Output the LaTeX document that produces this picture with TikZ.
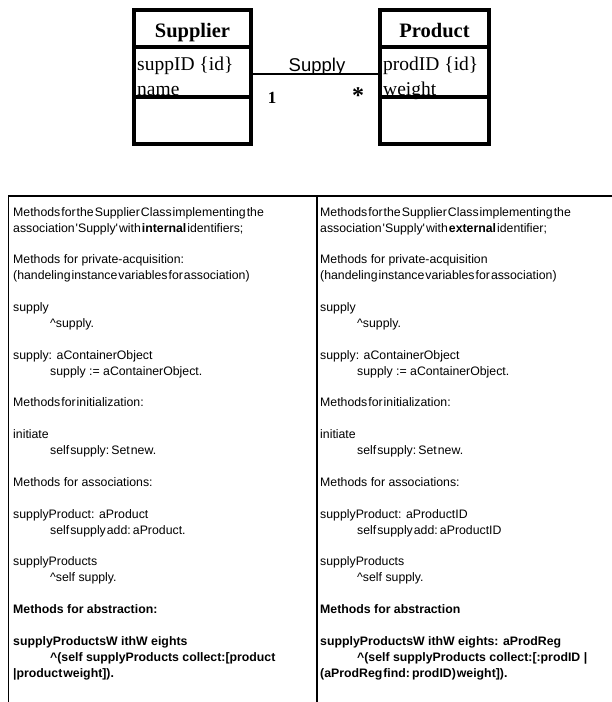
\documentclass[tikz,border=0pt]{standalone}
\usepackage{fontspec}
\setmainfont{Liberation Sans}
\newfontfamily\serif{Liberation Serif}
\newcommand\tg[1]{\mbox{\spaceskip=1pt plus .5pt\relax#1}}
\newcommand\ind{\hspace*{37pt}}
\newcommand\bl{\\[15.9pt]}
\newcommand\ca{\textasciicircum}
\begin{document}
\begin{tikzpicture}[x=1pt,y=-1pt,
  umlbox/.style={draw, line width=4pt, minimum height=134pt, inner sep=0pt, outer sep=0pt},
  sepline/.style={line width=3.8pt},
  assoc/.style={line width=2pt},
  title/.style={font=\serif\bfseries\fontsize{20.5}{24}\selectfont, inner sep=0pt, anchor=base},
  attr/.style={font=\serif\fontsize{19.5}{23}\selectfont, inner sep=0pt, anchor=base west},
  mult/.style={font=\serif\bfseries\fontsize{17}{20}\selectfont, inner sep=0pt},
  col/.style={font=\fontsize{12.3}{15.9}\selectfont, align=left, inner sep=0pt, anchor=north west},
  tline/.style={line width=1.8pt}
]
\useasboundingbox (0,0) rectangle (612,702);
% UML classes
\node[umlbox, minimum width=117pt] (sup) at (192.5,77) {};
\node[umlbox, minimum width=109pt] (prod) at (434.5,77) {};
\node[title] (supT) at (192.5,37) {Supplier};
\node[title] (prodT) at (434.5,37) {Product};
\node[attr] (supA) at (137,70) {suppID \{id\}};
\node[attr] (supB) at (137,95) {name};
\node[attr] (prodA) at (383,70) {prodID \{id\}};
\node[attr] (prodB) at (383,95) {weight};
\draw[sepline] (sup.west |- 0,47) -- (sup.east |- 0,47);
\draw[sepline] (sup.west |- 0,97) -- (sup.east |- 0,97);
\draw[sepline] (prod.west |- 0,47) -- (prod.east |- 0,47);
\draw[sepline] (prod.west |- 0,97) -- (prod.east |- 0,97);
% association
\draw[assoc] ([yshift=3pt]sup.east) -- ([yshift=3pt]prod.west);
\node[font=\fontsize{18.5}{20}\selectfont, inner sep=0pt, anchor=base] (lab) at (317,71) {Supply};
\node[mult] (m1) at (272,98) {1};
\node[font=\serif\bfseries\fontsize{24}{26}\selectfont, inner sep=0pt] (m2) at (358,96) {*};
% table
\coordinate (tl) at (8.5,196);
\coordinate (tr) at (612,196);
\coordinate (bl) at (8.5,702);
\coordinate (tm) at (317,196);
\coordinate (bm) at (317,702);
\draw[tline] (tr) -- (tl) -- (bl);
\draw[tline] (tm) -- (bm);
\node[col] (left) at (13,207) {%
\tg{Methods for the Supplier Class implementing the}\\
\tg{association \textquotesingle Supply\textquotesingle{} with \textbf{internal} identifiers;}\bl
Methods for private-acquisition:\\
\tg{(handeling instance variables for association)}\bl
supply\\
\ind\ca supply.\bl
supply: aContainerObject\\
\ind supply := aContainerObject.\bl
\tg{Methods for initialization:}\bl
initiate\\
\ind\tg{self supply: Set new.}\bl
Methods for associations:\bl
supplyProduct: aProduct\\
\ind\tg{self supply add: aProduct.}\bl
supplyProducts\\
\ind\ca self supply.\bl
\textbf{Methods for abstraction:}\bl
\textbf{supplyProductsW ithW eights}\\
\ind\textbf{\ca(self supplyProducts collect:[product}\\
\textbf{\tg{|product weight]).}}};
\node[col] (right) at (320,207) {%
\tg{Methods for the Supplier Class implementing the}\\
\tg{association \textquotesingle Supply\textquotesingle{} with \textbf{external} identifier;}\bl
Methods for private-acquisition\\
\tg{(handeling instance variables for association)}\bl
supply\\
\ind\ca supply.\bl
supply: aContainerObject\\
\ind supply := aContainerObject.\bl
\tg{Methods for initialization:}\bl
initiate\\
\ind\tg{self supply: Set new.}\bl
Methods for associations:\bl
supplyProduct: aProductID\\
\ind\tg{self supply add: aProductID}\bl
supplyProducts\\
\ind\ca self supply.\bl
\textbf{Methods for abstraction}\bl
\textbf{supplyProductsW ithW eights: aProdReg}\\
\ind\textbf{\ca(self supplyProducts collect:[:prodID |}\\
\textbf{\tg{(aProdReg find: prodID) weight]).}}};
\end{tikzpicture}
\end{document}
